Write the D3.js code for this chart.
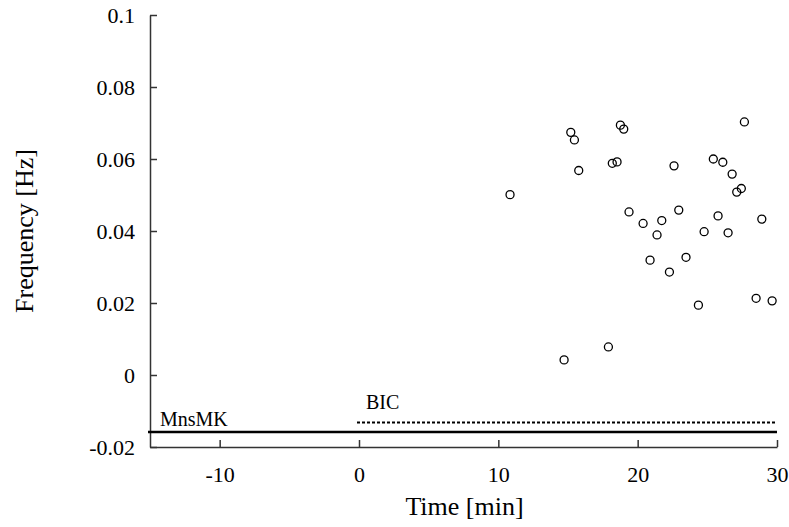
<!DOCTYPE html>
<html>
<head>
<meta charset="utf-8">
<script src="https://cdn.jsdelivr.net/npm/d3@7"></script>
<style>
  html, body { margin: 0; padding: 0; background: #fff; }
  svg { display: block; }
</style>
</head>
<body>
<svg id="chart" width="789" height="527" font-family="Liberation Serif"></svg>
<script>
// Event times (min) and oscillation frequencies (Hz)
const times = [10.84, 14.72, 15.20, 15.46, 15.77, 17.90, 18.18, 18.52, 18.76, 19.00,
               19.38, 20.39, 20.89, 21.39, 21.73, 22.28, 22.61, 22.95, 23.47, 24.36,
               24.77, 25.43, 25.77, 26.11, 26.49, 26.78, 27.11, 27.44, 27.66, 28.50,
               28.91, 29.65];
const freqs = [0.0501, 0.0042, 0.0674, 0.0653, 0.0568, 0.0078, 0.0588, 0.0592, 0.0694, 0.0683,
               0.0453, 0.0421, 0.0319, 0.0389, 0.0429, 0.0286, 0.0581, 0.0458, 0.0327, 0.0194,
               0.0398, 0.0600, 0.0442, 0.0591, 0.0395, 0.0558, 0.0508, 0.0518, 0.0703, 0.0213,
               0.0433, 0.0206];

// Treatment periods
const periodNames = ["MnsMK", "BIC"];
const periodStart = [-15, 0];
const periodEnd = [30, 30];
const periodLevel = [-0.0158, -0.0132];

// Axis ticks
const xTicks = [-10, 0, 10, 20, 30];
const xTickLabels = ["-10", "0", "10", "20", "30"];
const yTicks = [-0.02, 0, 0.02, 0.04, 0.06, 0.08, 0.1];
const yTickLabels = ["-0.02", "0", "0.02", "0.04", "0.06", "0.08", "0.1"];

const FONT = "Liberation Serif";
const svg = d3.select("#chart");

const x = d3.scaleLinear().domain([-15, 30]).range([150, 777]);
const y = d3.scaleLinear().domain([-0.02, 0.1]).range([447, 15]);

const axisColor = "#333";

// Y axis
const gy = svg.append("g")
  .attr("transform", `translate(${x(-15)},0)`)
  .call(d3.axisLeft(y)
    .tickValues(yTicks)
    .tickFormat((d, i) => yTickLabels[i])
    .tickSizeInner(-7)
    .tickSizeOuter(0)
    .tickPadding(15));

// X axis
const gx = svg.append("g")
  .attr("transform", `translate(0,${y(-0.02)})`)
  .call(d3.axisBottom(x)
    .tickValues(xTicks)
    .tickFormat((d, i) => xTickLabels[i])
    .tickSizeInner(-7)
    .tickSizeOuter(0)
    .tickPadding(19));

[gx, gy].forEach(g => {
  g.attr("font-family", FONT).attr("font-size", 22);
  g.select(".domain").attr("stroke", axisColor).attr("stroke-width", 1.5);
  g.selectAll(".tick line").attr("stroke", axisColor).attr("stroke-width", 1.5);
  g.selectAll(".tick text").attr("fill", "#000").attr("font-family", FONT);
});

// Period bars
const periods = periodNames.map((name, i) => ({
  name, start: periodStart[i], end: periodEnd[i], level: periodLevel[i]
}));

svg.append("line")
  .attr("x1", x(periods[0].start) - 2)
  .attr("x2", x(periods[0].end))
  .attr("y1", y(periods[0].level))
  .attr("y2", y(periods[0].level))
  .attr("stroke", "#000")
  .attr("stroke-width", 2.5);

svg.append("line")
  .attr("x1", x(periods[1].start) - 2)
  .attr("x2", x(periods[1].end) - 2)
  .attr("y1", y(periods[1].level))
  .attr("y2", y(periods[1].level))
  .attr("stroke", "#000")
  .attr("stroke-width", 2)
  .attr("stroke-dasharray", "3,2");

svg.append("text")
  .attr("x", x(periods[0].start) + 10)
  .attr("y", y(periods[0].level) - 6)
  .attr("font-family", FONT)
  .attr("font-size", 20)
  .text(periods[0].name);

svg.append("text")
  .attr("x", x(periods[1].start) + 7)
  .attr("y", y(periods[1].level) - 14)
  .attr("font-family", FONT)
  .attr("font-size", 20)
  .text(periods[1].name);

// Data points
svg.append("g")
  .selectAll("circle")
  .data(times.map((t, i) => ({ t, f: freqs[i] })))
  .join("circle")
  .attr("cx", d => x(d.t))
  .attr("cy", d => y(d.f))
  .attr("r", 4)
  .attr("fill", "none")
  .attr("stroke", "#000")
  .attr("stroke-width", 1.3);

// Axis titles
svg.append("text")
  .attr("x", (x(-15) + x(30)) / 2 + 1)
  .attr("y", 515)
  .attr("text-anchor", "middle")
  .attr("font-family", FONT)
  .attr("font-size", 26)
  .text("Time [min]");

svg.append("text")
  .attr("transform", `translate(33,${(y(-0.02) + y(0.1)) / 2}) rotate(-90)`)
  .attr("text-anchor", "middle")
  .attr("font-family", FONT)
  .attr("font-size", 26)
  .text("Frequency [Hz]");
</script>
</body>
</html>
